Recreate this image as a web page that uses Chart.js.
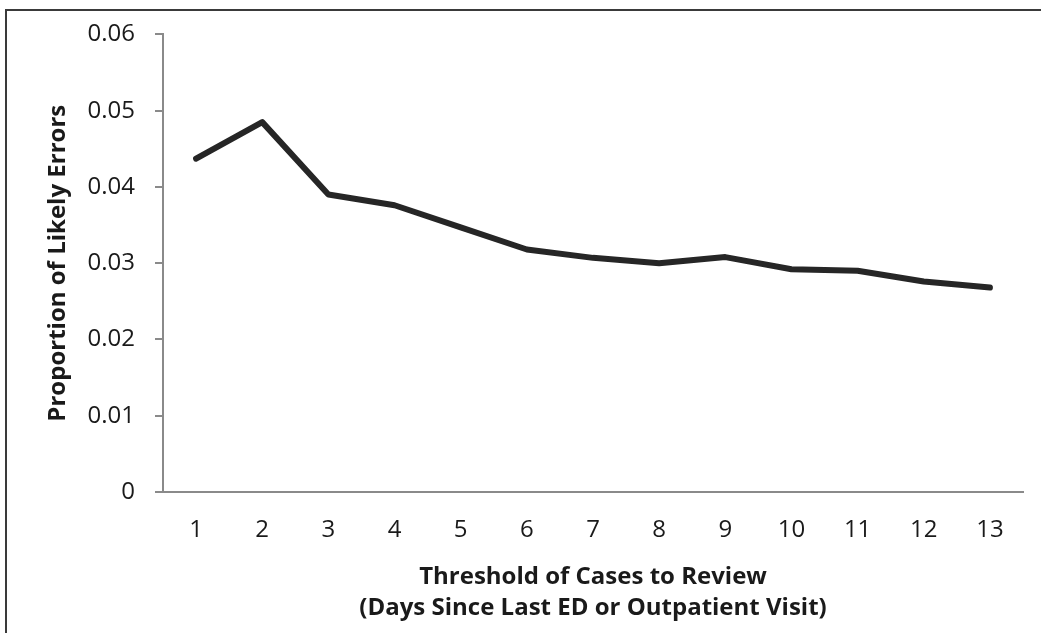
<!DOCTYPE html>
<html>
<head>
<meta charset="utf-8">
<script src="https://cdn.jsdelivr.net/npm/chart.js@4/dist/chart.umd.min.js"></script>
<style>
  html, body { margin: 0; padding: 0; background: #fff; }
  #frame {
    position: absolute; left: 5px; top: 9px; width: 1100px; height: 700px;
    border-top: 2px solid #3a3a3a; border-left: 2px solid #3a3a3a;
  }
  #wrap { position: absolute; left: 0; top: 0; width: 1041px; height: 633px; }
</style>
</head>
<body>
<div id="frame"></div>
<div id="wrap"><canvas id="errorChart"></canvas></div>
<script>
// Threshold (days since last visit) vs. proportion of likely errors
const thresholds = ["1", "2", "3", "4", "5", "6", "7", "8", "9", "10", "11", "12", "13"];
const errorProportion = [0.0437, 0.0485, 0.0390, 0.0376, 0.0347, 0.0318, 0.0307, 0.0300, 0.0308, 0.0292, 0.0290, 0.0276, 0.0268];
const yTicks = [0, 0.01, 0.02, 0.03, 0.04, 0.05, 0.06];

const axisGray = "#8a8a8a";
const tickFont = { family: "'Open Sans', sans-serif", size: 24 };
const titleFont = { family: "'Open Sans', sans-serif", size: 24, weight: "bold", lineHeight: 1.3125 };

document.addEventListener("DOMContentLoaded", function () {
  const ctx = document.getElementById("errorChart").getContext("2d");
  new Chart(ctx, {
    type: "line",
    data: {
      labels: thresholds,
      datasets: [
        {
          data: errorProportion,
          borderColor: "#262626",
          borderWidth: 6,
          borderCapStyle: "round",
          borderJoinStyle: "round",
          pointRadius: 0,
          tension: 0,
          fill: false,
        },
      ],
    },
    options: {
      responsive: true,
      maintainAspectRatio: false,
      animation: false,
      layout: { padding: { left: 6, top: 33, right: 18, bottom: 0 } },
      plugins: {
        legend: { display: false },
        tooltip: { enabled: false },
      },
      scales: {
        x: {
          offset: true,
          grid: { drawOnChartArea: false, drawTicks: false },
          border: { color: axisGray, width: 2 },
          ticks: { color: "#1a1a1a", font: tickFont, padding: 24, maxRotation: 0 },
          title: {
            display: true,
            text: ["Threshold of Cases to Review", "(Days Since Last ED or Outpatient Visit)"],
            color: "#1a1a1a",
            font: titleFont,
            padding: { top: 0, bottom: 9 },
          },
          afterFit: (scale) => { scale.height = 141; },
        },
        y: {
          min: 0,
          max: 0.06,
          afterBuildTicks: (scale) => { scale.ticks = yTicks.map((v) => ({ value: v })); },
          grid: { drawOnChartArea: false, drawTicks: true, tickLength: 8, color: axisGray, lineWidth: 2 },
          border: { color: axisGray, width: 2 },
          ticks: {
            color: "#1a1a1a",
            font: tickFont,
            padding: 20,
            callback: (v) => (v === 0 ? "0" : v.toFixed(2)),
          },
          title: {
            display: true,
            text: "Proportion of Likely Errors",
            color: "#1a1a1a",
            font: titleFont,
            padding: { top: 36, bottom: 0 },
          },
          afterFit: (scale) => { scale.width = 157; },
        },
      },
    },
  });
});
</script>
</body>
</html>
